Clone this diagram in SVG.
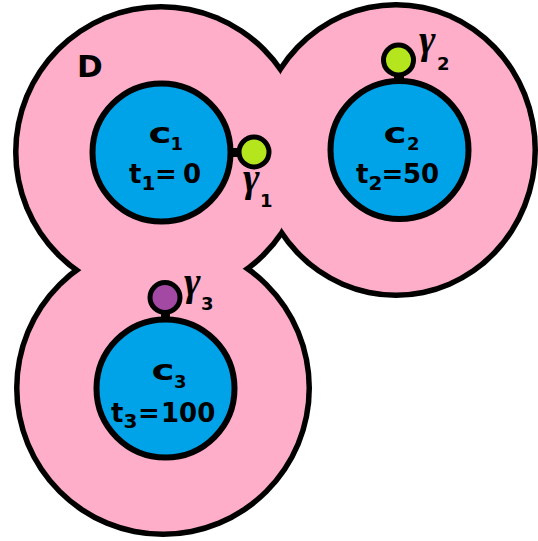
<svg xmlns="http://www.w3.org/2000/svg" width="538" height="541" viewBox="0 0 538 541">
<style>
.edge{fill:#000000}
.pink{fill:#FFAEC9}
.blue{fill:#00A2E8;stroke:#000000;stroke-width:6}
.gam{stroke:#000000;stroke-width:5}
.g-green{fill:#B5E61D}
.g-purple{fill:#A349A4}
.lbl{font-family:"DejaVu Sans","Liberation Sans",sans-serif;font-weight:bold;fill:#000000}
.cbig{font-size:28px}
.csub{font-size:18px}
.tbig{font-size:26px}
.tsub{font-size:20px}
.glbl{font-family:"Liberation Serif","DejaVu Serif",serif;font-style:italic;font-weight:bold;font-size:40px;fill:#000000}
.gsub{font-family:"DejaVu Sans","Liberation Sans",sans-serif;font-weight:bold;font-size:18px;fill:#000000}
</style>
<rect x="0" y="0" width="538" height="541" fill="#FFFFFF"/>
<g id="region-D">
  <circle class="edge" cx="161" cy="152" r="148"/>
  <ellipse class="edge" cx="396" cy="150" rx="142" ry="148"/>
  <circle class="edge" cx="163" cy="388" r="149"/>
  <circle class="pink" cx="161" cy="152" r="142.5"/>
  <ellipse class="pink" cx="396" cy="150" rx="136.5" ry="142.5"/>
  <circle class="pink" cx="163" cy="388" r="143.5"/>
  <text class="lbl" x="77" y="77" font-size="31">D</text>
</g>
<g id="connectors"></g>
<g id="c1">
  <circle class="blue" cx="161.5" cy="152.5" r="69"/>
  <text class="lbl cbig" x="148.5" y="143" textLength="23" lengthAdjust="spacingAndGlyphs">c</text>
  <text class="lbl csub" x="170.5" y="150">1</text>
  <text class="lbl tbig" x="129" y="183">t</text>
  <text class="lbl tsub" x="141.5" y="190">1</text>
  <text class="lbl tbig" x="155" y="183">=</text>
  <text class="lbl tbig" x="183" y="183">0</text>
</g>
<g id="c2">
  <circle class="blue" cx="399.5" cy="150" r="69"/>
  <text class="lbl cbig" x="383.5" y="143" textLength="23" lengthAdjust="spacingAndGlyphs">c</text>
  <text class="lbl csub" x="407" y="150">2</text>
  <text class="lbl tbig" x="356" y="183">t</text>
  <text class="lbl tsub" x="368.5" y="190">2</text>
  <text class="lbl tbig" x="381.5" y="183">=</text>
  <text class="lbl tbig" x="403" y="183">50</text>
</g>
<g id="c3">
  <circle class="blue" cx="165.5" cy="388.5" r="69"/>
  <text class="lbl cbig" x="151.5" y="380" textLength="23" lengthAdjust="spacingAndGlyphs">c</text>
  <text class="lbl csub" x="174" y="388">3</text>
  <text class="lbl tbig" x="111" y="422">t</text>
  <text class="lbl tsub" x="123.5" y="428">3</text>
  <text class="lbl tbig" x="138" y="422">=</text>
  <text class="lbl tbig" x="161" y="422" font-size="24">100</text>
</g>
<g id="gamma1">
  <rect class="edge" x="231" y="148" width="7" height="9"/>
  <circle class="gam g-green" cx="254" cy="152" r="15"/>
  <text class="glbl" x="243" y="191">γ</text>
  <text class="gsub" x="260" y="207">1</text>
</g>
<g id="gamma2">
  <rect class="edge" x="394" y="75" width="10" height="7"/>
  <circle class="gam g-green" cx="398.5" cy="60" r="15"/>
  <text class="glbl" x="419" y="53">γ</text>
  <text class="gsub" x="437" y="70">2</text>
</g>
<g id="gamma3">
  <rect class="edge" x="161" y="312" width="9" height="7"/>
  <circle class="gam g-purple" cx="165" cy="297.5" r="15"/>
  <text class="glbl" x="184" y="295">γ</text>
  <text class="gsub" x="201" y="310">3</text>
</g>
</svg>
